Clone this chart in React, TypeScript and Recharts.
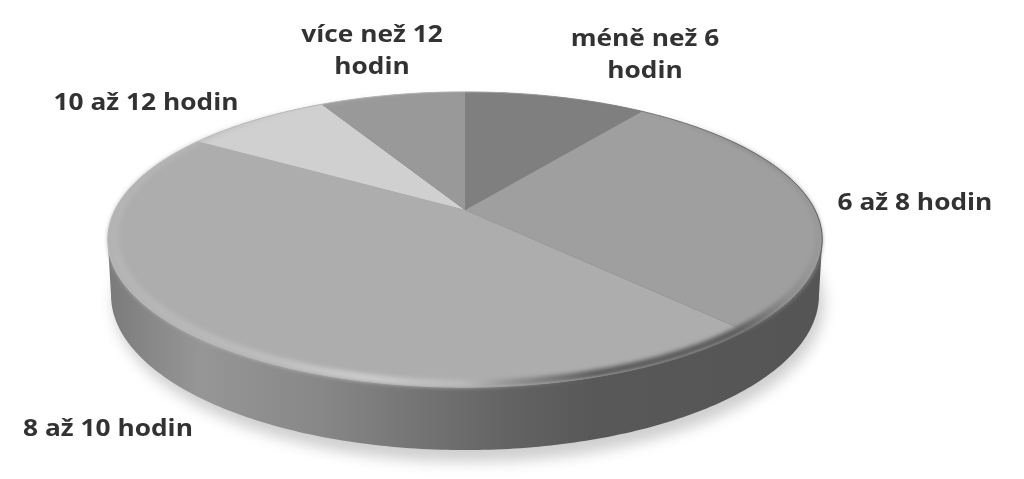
import { PieChart, Pie } from 'recharts';

// Hours per day, share of respondents (clockwise from 12 o'clock)
const categories = ['méně než 6 hodin', '6 až 8 hodin', '8 až 10 hodin', '10 až 12 hodin', 'více než 12 hodin'];
const shares = [10, 28, 46, 8, 8];
const sliceColors = ['#7f7f7f', '#a09fa0', '#adadad', '#d0d0d0', '#999999'];
const labelLines = [['méně než 6', 'hodin'], ['6 až 8 hodin'], ['8 až 10 hodin'], ['10 až 12 hodin'], ['více než 12', 'hodin']];
const labelSpots = [
  { x: 645, y: 46 },
  { x: 915, y: 210 },
  { x: 108, y: 436 },
  { x: 146, y: 110 },
  { x: 372, y: 42 },
];

const sliceData = categories.map((name, i) => ({ name, value: shares[i] }));
const wholeDisc = [{ name: 'celkem', value: shares.reduce((a, b) => a + b, 0) }];

// Perspective of the tilted disc
const TILT = 0.405;
const DEPTH = 0.2;
const FACE_SHIFT = 29.5; // apex sits above the centre of the top ellipse
const BASE_SHIFT = 85;
const BASE_RATIO = 0.443;
const BASE_WIDEN = 4;

const rad = (a: number) => (a * Math.PI) / 180;

function facePoint(t: number, cx: number, cy: number, r: number) {
  const w = 1 + DEPTH * Math.cos(t);
  return [cx + (r * Math.sin(t)) / w, cy - (r * TILT * Math.cos(t)) / w];
}

function sweep(startAngle: number, endAngle: number) {
  const from = 90 - startAngle;
  const to = 90 - endAngle;
  const steps = Math.max(2, Math.ceil(to - from));
  return Array.from({ length: steps + 1 }, (_, i) => rad(from + ((to - from) * i) / steps));
}

const toPath = (pts: number[][]) => pts.map((p, i) => `${i ? 'L' : 'M'}${p[0].toFixed(2)} ${p[1].toFixed(2)}`).join(' ');

function SliceShape(props: any) {
  const { cx, cy, outerRadius, startAngle, endAngle, index } = props;
  const arc = sweep(startAngle, endAngle).map((t) => facePoint(t, cx, cy, outerRadius));
  return <path d={`M${cx} ${cy} ${toPath(arc).replace('M', 'L')} Z`} fill={sliceColors[index]} />;
}

function WallShape(props: any) {
  const { cx, cy, outerRadius, startAngle, endAngle } = props;
  const ts = sweep(startAngle, endAngle);
  const basePoint = (t: number) => [
    cx + (outerRadius + BASE_WIDEN) * Math.sin(t),
    cy + BASE_SHIFT - outerRadius * BASE_RATIO * Math.cos(t),
  ];
  // Top rim between its widest points, then back along the base, so the sides have no notch
  const top = ts.map((t) => facePoint(t, cx, cy, outerRadius));
  const xs = top.map((p) => p[0]);
  const rightmost = xs.indexOf(Math.max(...xs));
  const leftmost = xs.indexOf(Math.min(...xs));
  const topFront = top.slice(rightmost, leftmost + 1);
  const baseFront = ts.filter((t) => t >= rad(90) && t <= rad(270)).map(basePoint).reverse();
  return (
    <g>
      <ellipse
        cx={cx + 4}
        cy={cy + BASE_SHIFT + 8}
        rx={outerRadius + 5}
        ry={outerRadius * BASE_RATIO + 4}
        fill="#cfcfcf"
        filter="url(#softShadow)"
      />
      <path d={`${toPath([...topFront, ...baseFront])} Z`} fill="url(#wallShade)" />
      <path d={`${toPath(top)} Z`} fill="url(#wallShade)" />
    </g>
  );
}

function RimShape(props: any) {
  const { cx, cy, outerRadius, startAngle, endAngle } = props;
  const ts = sweep(startAngle, endAngle);
  const outer = ts.map((t) => facePoint(t, cx, cy, outerRadius));
  const midY = cy + FACE_SHIFT;
  const inner = outer.map((p) => [cx + (p[0] - cx) * 0.975 + 2, midY + (p[1] - midY) * 0.975 - 3.7]);
  return (
    <g>
      <path
        d={`${toPath(outer)} Z ${toPath(inner)} Z`}
        fillRule="evenodd"
        fill="url(#rimShade)"
        filter="url(#rimBlur)"
      />
      <path d={`${toPath(outer)} Z`} fill="none" stroke="url(#edgeShade)" strokeWidth={1} />
    </g>
  );
}

function SliceLabel(props: any) {
  const { index } = props;
  const spot = labelSpots[index];
  return (
    <text
      textAnchor="middle"
      fontFamily="'Open Sans', sans-serif"
      fontWeight={700}
      fontSize={23.5}
      fill="#333333"
      filter="url(#textSoft)"
      transform={`translate(${spot.x} 0) scale(1.12 1) translate(${-spot.x} 0)`}
    >
      {labelLines[index].map((line, i) => (
        <tspan key={line} x={spot.x} y={spot.y + i * 32}>
          {line}
        </tspan>
      ))}
    </text>
  );
}

export default function App() {
  return (
    <div style={{ position: 'absolute', left: 0, top: 0, width: 1024, height: 479, background: '#fff' }}>
      <PieChart width={1024} height={479} margin={{ top: 0, right: 0, bottom: 0, left: 0 }}>
        <defs>
          <filter id="softShadow" x="-10%" y="-20%" width="120%" height="140%">
            <feGaussianBlur stdDeviation="7" />
          </filter>
          <filter id="rimBlur" x="-5%" y="-5%" width="110%" height="110%">
            <feGaussianBlur stdDeviation="2" />
          </filter>
          <filter id="textSoft" x="-5%" y="-10%" width="110%" height="120%">
            <feGaussianBlur stdDeviation="0.45" />
          </filter>
          <linearGradient id="wallShade" gradientUnits="userSpaceOnUse" x1="108" y1="0" x2="822" y2="0">
            <stop offset="0" stopColor="#7a7a7a" />
            <stop offset="0.05" stopColor="#868686" />
            <stop offset="0.13" stopColor="#969696" />
            <stop offset="0.3" stopColor="#878787" />
            <stop offset="0.45" stopColor="#727272" />
            <stop offset="0.56" stopColor="#636363" />
            <stop offset="0.68" stopColor="#585858" />
            <stop offset="1" stopColor="#555555" />
          </linearGradient>
          <linearGradient id="rimShade" gradientUnits="userSpaceOnUse" x1="108" y1="0" x2="822" y2="0">
            <stop offset="0" stopColor="#b4b4b4" />
            <stop offset="0.2" stopColor="#bcbcbc" />
            <stop offset="0.36" stopColor="#cccccc" />
            <stop offset="0.5" stopColor="#b8b8b8" />
            <stop offset="0.58" stopColor="#8a8a8a" />
            <stop offset="0.68" stopColor="#5a5a5a" />
            <stop offset="0.88" stopColor="#5a5a5a" />
            <stop offset="0.95" stopColor="#8c8c8c" />
            <stop offset="1" stopColor="#9a9a9a" />
          </linearGradient>
          <linearGradient id="edgeShade" gradientUnits="userSpaceOnUse" x1="108" y1="0" x2="822" y2="0">
            <stop offset="0" stopColor="#bcbcbc" />
            <stop offset="0.45" stopColor="#b4b4b4" />
            <stop offset="0.7" stopColor="#858585" />
            <stop offset="1" stopColor="#5c5c5c" />
          </linearGradient>
        </defs>
        <Pie
          data={wholeDisc}
          dataKey="value"
          cx={465}
          cy={210}
          outerRadius={350}
          startAngle={90}
          endAngle={-270}
          stroke="none"
          shape={WallShape}
          isAnimationActive={false}
        />
        <Pie
          data={sliceData}
          dataKey="value"
          nameKey="name"
          cx={465}
          cy={210}
          outerRadius={350}
          startAngle={90}
          endAngle={-270}
          stroke="none"
          shape={SliceShape}
          label={SliceLabel}
          labelLine={false}
          isAnimationActive={false}
        />
        <Pie
          data={wholeDisc}
          dataKey="value"
          cx={465}
          cy={210}
          outerRadius={350}
          startAngle={90}
          endAngle={-270}
          stroke="none"
          shape={RimShape}
          isAnimationActive={false}
        />
      </PieChart>
    </div>
  );
}
